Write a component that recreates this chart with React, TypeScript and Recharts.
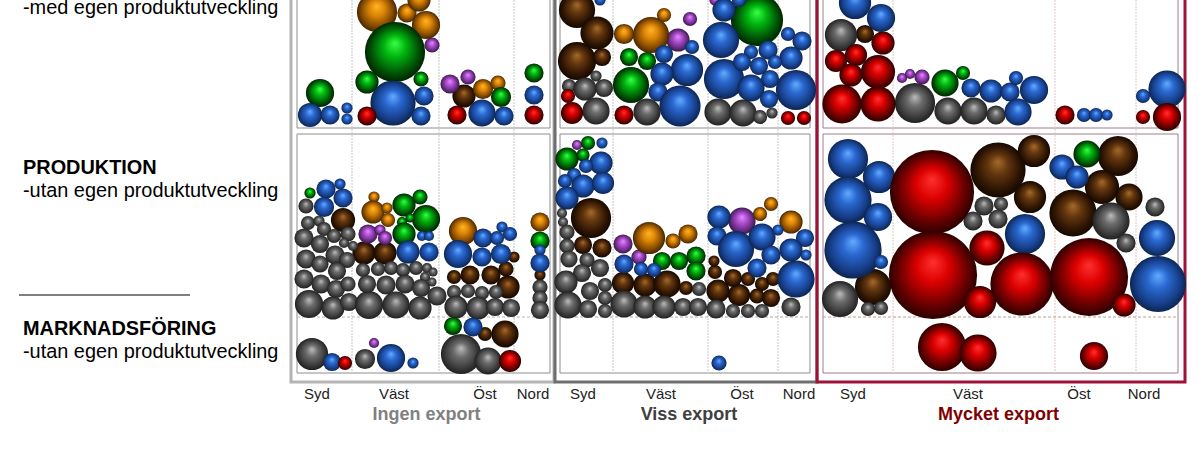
import * as React from "react";
import {
  ScatterChart,
  Scatter,
  XAxis,
  YAxis,
  ZAxis,
  ReferenceArea,
  ReferenceLine,
} from "recharts";

type Bubble = [number, number, number]; // x, y, radius

const font = "'Liberation Sans', Arial, sans-serif";

const regionTicks = [317, 394, 485, 533, 583, 661, 742, 799, 853, 968, 1079, 1144];
const regionNames = ["Syd", "Väst", "Öst", "Nord", "Syd", "Väst", "Öst", "Nord", "Syd", "Väst", "Öst", "Nord"];

const brown: Bubble[] = [
  [464, 96, 11], [343, 220, 11.5], [364, 253, 11], [385, 253, 11], [514, 257, 5],
  [454, 277, 6.5], [470, 275, 9], [491, 275, 9], [506, 269, 7], [508, 287, 11], [540, 275, 5],
  [485, 334, 6.5], [505, 334, 13],
  [577, 10, 17.5], [597, 33, 16], [577, 61, 18.5], [602, 57, 8.5],
  [591, 218, 19.5], [583, 245, 8.5], [602, 248, 9], [623, 283, 10.5], [645, 285, 11], [667, 284, 13],
  [686, 288, 6.5], [718, 291, 11], [739, 295, 10.5], [757, 296, 7], [771, 298, 8.5], [733, 278, 8.5],
  [748, 279, 6.5], [762, 284, 6.5], [773, 279, 6.5], [715, 272, 6.5], [714, 261, 5],
  [865, 34, 8.5], [998, 170, 27], [1034, 151, 15.5], [1030, 197, 15.5], [1118, 156, 19.5],
  [1102, 187, 16.5], [1129, 197, 13], [1073, 213, 23], [873, 287, 17.5],
];

const gray: Bubble[] = [
  [306, 206, 7], [308, 223, 6.5], [319, 221, 5], [324, 229, 6.5], [304, 238, 9], [320, 244, 8.5],
  [334, 236, 6.5], [348, 234, 7], [344, 243, 4.5], [353, 246, 4.5], [306, 259, 9], [320, 264, 8],
  [335, 255, 9], [347, 260, 7.5], [337, 271, 8.5], [304, 279, 9], [321, 284, 9], [336, 289, 8.5],
  [348, 284, 7], [309, 304, 13.5], [333, 308, 11], [349, 302, 8.5], [369, 305, 13.5], [396, 305, 13],
  [420, 308, 11], [437, 296, 9], [363, 270, 6.5], [378, 269, 6.5], [391, 268, 6.5], [403, 270, 6.5],
  [416, 268, 6.5], [427, 268, 4.5], [433, 272, 4], [425, 277, 4.5], [432, 282, 4], [367, 284, 8.5],
  [386, 285, 9], [405, 284, 9], [421, 288, 8.5], [454, 292, 6.5], [468, 291, 6.5], [482, 293, 6.5],
  [496, 292, 6.5], [456, 307, 11], [478, 308, 11], [495, 307, 8.5], [511, 308, 8.5], [540, 287, 7],
  [540, 298, 7], [540, 310, 8.5], [312, 354, 15.5], [365, 359, 9.5], [461, 354, 19.5], [488, 361, 13],
  [596, 76, 5], [569, 86, 6.5], [585, 89, 11], [604, 88, 8.5], [596, 111, 13], [647, 112, 13],
  [718, 112, 13], [743, 113, 13], [760, 117, 6.5], [772, 113, 5],
  [562, 213, 4.5], [563, 222, 4.5], [567, 232, 7], [567, 246, 7], [569, 259, 8], [587, 260, 7],
  [600, 268, 8.5], [582, 273, 8.5], [566, 282, 11], [590, 291, 8.5], [605, 285, 6.5], [605, 298, 6.5],
  [568, 305, 13], [588, 309, 8.5], [605, 311, 6.5], [624, 304, 13], [645, 307, 11], [664, 307, 11],
  [683, 307, 8.5], [698, 307, 8.5], [716, 309, 9], [733, 311, 6.5], [748, 311, 6.5], [762, 311, 6.5],
  [791, 307, 9], [699, 289, 6.5],
  [841, 35, 15.5], [915, 103, 19.5], [948, 111, 13], [974, 111, 13], [996, 115, 9],
  [984, 206, 9], [1001, 204, 6.5], [973, 221, 9], [998, 219, 9], [1111, 221, 18], [1126, 243, 9],
  [1155, 207, 9], [840, 299, 17.5], [868, 309, 6.5], [881, 308, 6.5],
];

const purple: Bubble[] = [
  [432, 45, 7], [450, 84, 9], [468, 77, 7], [368, 234, 9], [380, 230, 5], [385, 238, 6.5], [374, 343, 4.5],
  [678, 40, 11], [690, 19, 6.5], [715, 0, 5], [577, 145, 4.5], [623, 244, 9], [742, 221, 13], [639, 257, 7],
  [902, 78, 4.5], [910, 74, 4.5], [922, 77, 7],
];

const orange: Bubble[] = [
  [377, 12, 19.5], [407, 13, 9], [419, 0, 11], [426, 25, 13.5], [483, 89, 9.5], [498, 83, 7],
  [374, 197, 5], [373, 212, 11], [387, 208, 5], [388, 220, 6.5], [463, 231, 13.5], [540, 222, 9],
  [624, 34, 9.5], [651, 35, 17.5], [664, 15, 6.5], [649, 238, 15.5], [673, 241, 7], [688, 234, 9],
  [760, 214, 6.5], [771, 204, 6.5], [791, 222, 11],
];

const green: Bubble[] = [
  [320, 93, 13.5], [367, 82, 11], [395, 52, 29.5], [421, 79, 7], [501, 97, 9.5], [534, 73, 9],
  [310, 193, 5], [404, 205, 11], [420, 197, 7], [426, 219, 13.5], [402, 222, 4.5], [410, 218, 4],
  [404, 234, 11], [540, 241, 9], [453, 326, 8.5],
  [757, 20, 25.5], [629, 57, 8.5], [647, 61, 8.5], [631, 85, 17.5], [588, 143, 6.5], [567, 159, 11],
  [583, 155, 6], [662, 261, 8.5], [679, 261, 8.5], [696, 256, 9], [696, 271, 9],
  [945, 83, 13], [963, 73, 6.5], [1087, 154, 13],
];

const blue: Bubble[] = [
  [310, 115, 11.5], [330, 115, 9], [347, 108, 5], [347, 119, 5], [393, 103, 22], [424, 96, 9],
  [421, 116, 9], [482, 113, 13], [504, 116, 9], [534, 95, 9],
  [326, 189, 9], [340, 184, 5], [343, 198, 9], [324, 207, 9.5], [408, 252, 11], [422, 236, 4.5],
  [429, 236, 4.5], [429, 252, 9], [458, 254, 13.5], [483, 238, 9], [497, 238, 6.5], [502, 227, 5],
  [510, 234, 6.5], [482, 257, 9], [501, 254, 9.5], [540, 250, 5], [540, 263, 9],
  [332, 362, 8.5], [391, 358, 13.5], [413, 363, 5], [473, 327, 9],
  [600, 0, 5], [724, 10, 11], [739, 0, 6.5], [692, 47, 6.5], [664, 54, 8.5], [687, 70, 15.5],
  [662, 74, 11], [658, 92, 9], [680, 106, 20], [721, 40, 17.5], [724, 79, 19.5], [751, 52, 6.5],
  [768, 50, 9], [788, 34, 6.5], [802, 41, 9], [791, 58, 11], [742, 62, 8.5], [759, 66, 8.5],
  [775, 62, 6.5], [770, 79, 8.5], [751, 88, 13], [769, 99, 8.5], [796, 90, 19.5],
  [602, 143, 5], [601, 163, 11], [586, 166, 6.5], [574, 175, 6.5], [565, 181, 6.5], [583, 186, 11],
  [603, 183, 10.5], [567, 198, 11], [624, 264, 9], [641, 269, 6.5], [654, 270, 6.5], [757, 268, 9],
  [796, 279, 18], [719, 363, 7], [719, 217, 11], [717, 236, 9], [736, 249, 17.5], [762, 237, 13],
  [778, 230, 5], [805, 238, 8.5], [771, 255, 9], [791, 250, 11], [806, 255, 5],
  [855, 3, 15.5], [881, 18, 13.5], [971, 88, 9], [991, 91, 11], [1010, 92, 9], [1016, 78, 6.5],
  [1034, 90, 13.5], [1018, 112, 13], [1084, 115, 6.5], [1096, 115, 6.5], [1107, 115, 5],
  [1143, 96, 6.5], [1167, 89, 18],
  [848, 159, 19.5], [879, 177, 15.5], [848, 200, 23], [878, 217, 13.5], [853, 250, 28], [881, 262, 6.5],
  [1025, 234, 19.5], [1062, 167, 12], [1077, 177, 11], [1157, 238, 17.5], [1158, 284, 27.5],
];

const red: Bubble[] = [
  [367, 116, 9], [457, 115, 9], [534, 115, 9], [345, 363, 6.5], [510, 361, 10.5],
  [568, 96, 6.5], [572, 113, 10.5], [624, 115, 9], [788, 118, 6.5], [804, 118, 6.5],
  [883, 43, 11], [836, 61, 10.5], [856, 55, 10.5], [851, 75, 11], [878, 72, 16.5], [842, 104, 19],
  [878, 104, 17], [1065, 115, 9], [1143, 117, 6.5], [1167, 117, 13.5],
  [932, 192, 41.5], [987, 248, 17], [933, 275, 43.5], [1022, 284, 31], [1089, 277, 38.5],
  [980, 302, 15.5], [1124, 305, 11], [942, 347, 23.5], [978, 353, 18], [1094, 356, 13.5],
];

const seriesList: { id: string; data: Bubble[]; stops: string[] }[] = [
  { id: "brown", data: brown, stops: ["#a56a2a", "#63360e", "#2e1503", "#120700"] },
  { id: "gray", data: gray, stops: ["#bcbcbc", "#6c6c6c", "#3c3c3c", "#1e1e1e"] },
  { id: "purple", data: purple, stops: ["#e48cff", "#b050d0", "#682a84", "#341a40"] },
  { id: "orange", data: orange, stops: ["#ffb428", "#de8806", "#864a02", "#3e2400"] },
  { id: "green", data: green, stops: ["#38ff48", "#00b40e", "#005406", "#002000"] },
  { id: "blue", data: blue, stops: ["#62acff", "#2a68d0", "#173f8a", "#0b234c"] },
  { id: "red", data: red, stops: ["#ff3030", "#dc0000", "#680000", "#280000"] },
];

// one entry per export column
const columns = [
  { outer: [291, 554], inner: [297, 550], dividers: [352, 439, 514], outerColor: "#b4b4b4", innerColor: "#8e8e8e", lineColor: "#c4c4c4", dashColor: "#b8b8b8" },
  { outer: [555, 817], inner: [560, 810], dividers: [613, 708, 778], outerColor: "#6e6e6e", innerColor: "#8e8e8e", lineColor: "#c4c4c4", dashColor: "#a8a8a8" },
  { outer: [817, 1185], inner: [823, 1178], dividers: [893, 1055, 1136], outerColor: "#9e1238", innerColor: "#a07a8c", lineColor: "#e2c8c0", dashColor: "#c89a88" },
];

const toRows = (list: Bubble[]) => list.map(([x, y, r]) => ({ x, y, z: (r + 0.6) * (r + 0.6) }));

const App: React.FC = () => {
  return (
    <div style={{ position: "absolute", left: 0, top: 0, width: 1199, height: 457, background: "#fff" }}>
      <ScatterChart width={1199} height={457} margin={{ top: 0, right: 0, bottom: 0, left: 0 }}>
        <defs>
          {seriesList.map((s) => (
            <radialGradient key={s.id} id={s.id} cx="50%" cy="50%" r="51%" fx="50%" fy="35%">
              <stop offset="0%" stopColor={s.stops[0]} />
              <stop offset="36%" stopColor={s.stops[1]} />
              <stop offset="76%" stopColor={s.stops[2]} />
              <stop offset="100%" stopColor={s.stops[3]} />
            </radialGradient>
          ))}
        </defs>
        <XAxis
          type="number"
          dataKey="x"
          domain={[0, 1199]}
          allowDataOverflow
          height={67}
          ticks={regionTicks}
          interval={0}
          axisLine={false}
          tickLine={false}
          tickMargin={-8}
          tickFormatter={(v: number) => regionNames[regionTicks.indexOf(v)]}
          tick={{ fontFamily: font, fontSize: 15, fill: "#222" }}
        />
        <YAxis type="number" dataKey="y" domain={[0, 390]} reversed hide allowDataOverflow />
        <ZAxis type="number" dataKey="z" domain={[0, 2500]} range={[0, 2500 * Math.PI]} />

        {columns.map((c, i) => (
          <ReferenceArea key={`outer${i}`} x1={c.outer[0]} x2={c.outer[1]} y1={-10} y2={382} ifOverflow="visible" fill="none" stroke={c.outerColor} strokeWidth={3} />
        ))}
        {columns.map((c, i) => (
          <ReferenceArea key={`top${i}`} x1={c.inner[0]} x2={c.inner[1]} y1={-10} y2={128} ifOverflow="visible" fill="none" stroke={c.innerColor} strokeWidth={1} />
        ))}
        {columns.map((c, i) => (
          <ReferenceArea key={`low${i}`} x1={c.inner[0]} x2={c.inner[1]} y1={134} y2={373} ifOverflow="visible" fill="none" stroke={c.innerColor} strokeWidth={1} />
        ))}
        {columns.flatMap((c, i) =>
          c.dividers.map((d) => (
            <ReferenceLine key={`div${i}${d}`} segment={[{ x: d, y: 0 }, { x: d, y: 373 }]} stroke={c.lineColor} strokeWidth={1} strokeDasharray="2 1" />
          )),
        )}
        {columns.map((c, i) => (
          <ReferenceLine key={`dash${i}`} segment={[{ x: c.inner[0], y: 317 }, { x: c.inner[1], y: 317 }]} stroke={c.dashColor} strokeDasharray="3 2" />
        ))}
        <ReferenceLine segment={[{ x: 19, y: 295 }, { x: 190, y: 295 }]} stroke="#000" strokeWidth={1} />

        {seriesList.map((s) => (
          <Scatter key={s.id} name={s.id} data={toRows(s.data)} fill={`url(#${s.id})`} isAnimationActive={false} />
        ))}

        <g fontFamily={font}>
          <text x={23} y={14} fontSize={19.9} fill="#000">-med egen produktutveckling</text>
          <text x={23} y={174} fontSize={19.9} fontWeight="bold" fill="#000">PRODUKTION</text>
          <text x={23} y={197} fontSize={19.9} fill="#000">-utan egen produktutveckling</text>
          <text x={23} y={335} fontSize={19.9} fontWeight="bold" fill="#000">MARKNADSFÖRING</text>
          <text x={23} y={358} fontSize={19.9} fill="#000">-utan egen produktutveckling</text>
          <text x={426.5} y={420} fontSize={18} fontWeight="bold" fill="#808080" textAnchor="middle">Ingen export</text>
          <text x={689} y={420} fontSize={18} fontWeight="bold" fill="#404040" textAnchor="middle">Viss export</text>
          <text x={998.5} y={420} fontSize={18} fontWeight="bold" fill="#800000" textAnchor="middle">Mycket export</text>
        </g>
      </ScatterChart>
    </div>
  );
};

export default App;
